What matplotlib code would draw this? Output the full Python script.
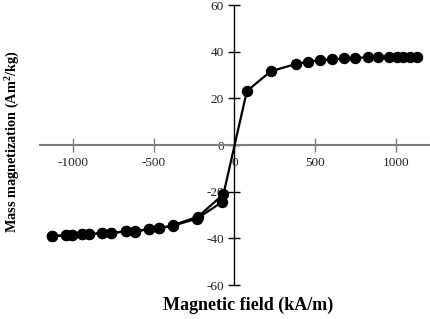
import matplotlib
matplotlib.use("Agg")
import matplotlib.pyplot as plt

# Descending branch (from +max down to -max)
desc_x = [1130, 1089, 1047, 1006, 960, 892, 830, 750, 680, 607, 531, 455, 380, 225, 77,
          -68, -225, -382, -465, -527, -615, -673, -764, -820, -900, -945, -1007, -1045, -1128]
desc_y = [37.6, 37.7, 37.8, 37.9, 37.8, 37.7, 37.6, 37.3, 37.1, 36.7, 36.4, 35.7, 34.7, 31.6, 23.1,
          -21.1, -30.7, -34.4, -35.7, -35.9, -37.0, -37.0, -37.7, -37.7, -38.3, -38.3, -38.7, -38.7, -39.0]
# Ascending branch (from -max back up)
asc_x = [-1128, -1045, -1007, -945, -900, -820, -764, -673, -615, -527, -465, -382, -233, -78]
asc_y = [-39.0, -38.7, -38.7, -38.3, -38.3, -37.7, -37.7, -37.0, -37.2, -35.9, -35.7, -34.6, -31.6, -24.5]

xticks = [-1000, -500, 0, 500, 1000]
yticks = [-60, -40, -20, 0, 20, 40, 60]

plt.rcParams['font.family'] = ['Liberation Serif', 'DejaVu Serif']
plt.rcParams['mathtext.fontset'] = 'custom'
plt.rcParams['mathtext.rm'] = 'Liberation Serif'
plt.rcParams['mathtext.bf'] = 'Liberation Serif:bold'

fig = plt.figure(figsize=(4.30, 3.19), dpi=100)
ax = fig.add_axes([40/430, 1-285/319, 390/430, 280/319])
ax.set_xlim(-1205, 1212)
ax.set_ylim(-60, 60)

for s in ['top', 'right']:
    ax.spines[s].set_visible(False)
ax.spines['left'].set_position(('data', 0))
ax.spines['bottom'].set_position(('data', 0))
ax.spines['left'].set_color('black')
ax.spines['left'].set_linewidth(1.0)
ax.spines['bottom'].set_color('#808080')
ax.spines['bottom'].set_linewidth(1.5)

ax.set_xticks(xticks)
ax.set_yticks(yticks)
ax.set_xticklabels([str(v) for v in xticks])
ax.set_yticklabels([str(v) for v in yticks])
ax.tick_params(axis='x', direction='inout', length=10, width=1.0, color='#808080',
               labelsize=9.5, pad=4, labelcolor='#222222')
ax.tick_params(axis='y', direction='inout', length=9, width=1.0, color='black',
               labelsize=9.5, pad=3, labelcolor='#222222')

ax.plot(desc_x, desc_y, '-o', color='black', lw=1.6, ms=7.2, zorder=5, clip_on=False)
ax.plot(asc_x, asc_y, '-o', color='black', lw=1.6, ms=7.2, zorder=5, clip_on=False)

fig.text(248/430, 1-305/319, 'Magnetic field (kA/m)', ha='center', va='center',
         fontsize=13, fontweight='bold')
fig.text(13/430, 1-142/319, 'Mass magnetization (Am$\\mathbf{^2}$/kg)', ha='center', va='center',
         rotation=90, fontsize=10.3, fontweight='bold')

fig.savefig('out.png', dpi=100)
